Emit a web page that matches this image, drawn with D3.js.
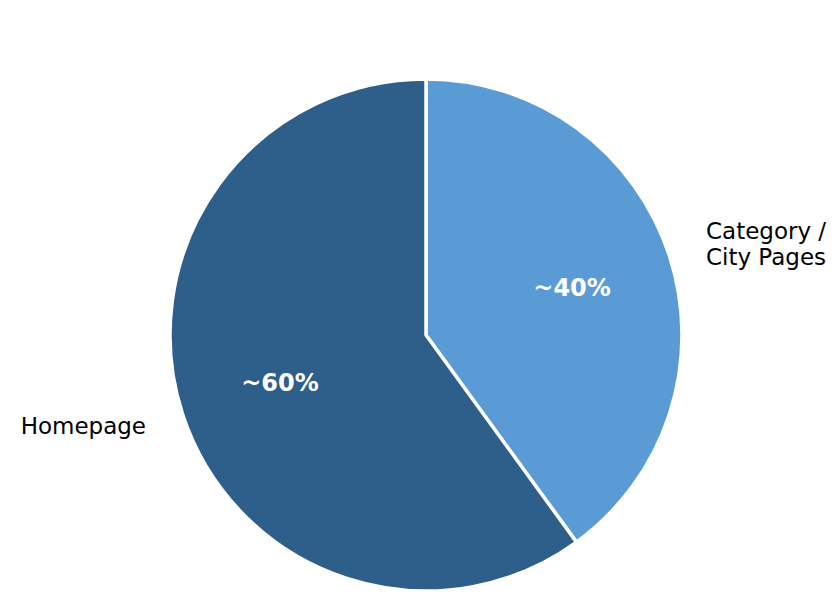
<!DOCTYPE html>
<html>
<head>
<meta charset="utf-8">
<script src="https://cdn.jsdelivr.net/npm/d3@7"></script>
<style>
  html, body { margin: 0; padding: 0; background: #fff; }
  svg { display: block; }
</style>
</head>
<body>
<svg id="chart" width="836" height="616"></svg>
<script>
const categories = ["Category / City Pages", "Homepage"];
const labelLines = [["Category /", "City Pages"], ["Homepage"]];
const values = [40, 60];
const pctLabels = ["~40%", "~60%"];
const colors = ["#5b9bd5", "#2e5f8a"];

const W = 836, H = 616;
const cx = 426, cy = 335, R = 256;
const svg = d3.select("#chart");
const g = svg.append("g").attr("transform", `translate(${cx},${cy})`);

const pie = d3.pie().sort(null).value(d => d)
  .startAngle(0).endAngle(2 * Math.PI);
const arcs = pie(values);
const arc = d3.arc().innerRadius(0).outerRadius(R);

g.selectAll("path.slice").data(arcs).enter().append("path")
  .attr("class", "slice")
  .attr("d", arc)
  .attr("fill", (d, i) => colors[i])
  .attr("stroke", "#fff")
  .attr("stroke-width", 3.5)
  .attr("stroke-linejoin", "round");

const font = "'DejaVu Sans', sans-serif";
const fs = 23;
const pfs = 24;

// percent labels
const pctArc = d3.arc().innerRadius(R * 0.6).outerRadius(R * 0.6);
g.selectAll("text.pct").data(arcs).enter().append("text")
  .attr("class", "pct")
  .attr("x", d => pctArc.centroid(d)[0])
  .attr("y", d => pctArc.centroid(d)[1])
  .attr("dy", "0.36em")
  .attr("text-anchor", "middle")
  .attr("font-family", font)
  .attr("font-weight", "bold")
  .attr("font-size", pfs)
  .attr("fill", "#fff")
  .text((d, i) => pctLabels[i]);

// outer labels
const lblArc = d3.arc().innerRadius(R * 1.15).outerRadius(R * 1.15);
const lineH = 26;
arcs.forEach((d, i) => {
  const [x, y] = lblArc.centroid(d);
  const lines = labelLines[i];
  const mid = (d.startAngle + d.endAngle) / 2;
  const anchor = Math.sin(mid) >= 0 ? "start" : "end";
  const t = g.append("text")
    .attr("font-family", font)
    .attr("font-size", fs)
    .attr("fill", "#000")
    .attr("text-anchor", anchor);
  lines.forEach((ln, j) => {
    t.append("tspan")
      .attr("x", x)
      .attr("y", y + (j - (lines.length - 1) / 2) * lineH)
      .attr("dy", "0.33em")
      .text(ln);
  });
});
</script>
</body>
</html>
